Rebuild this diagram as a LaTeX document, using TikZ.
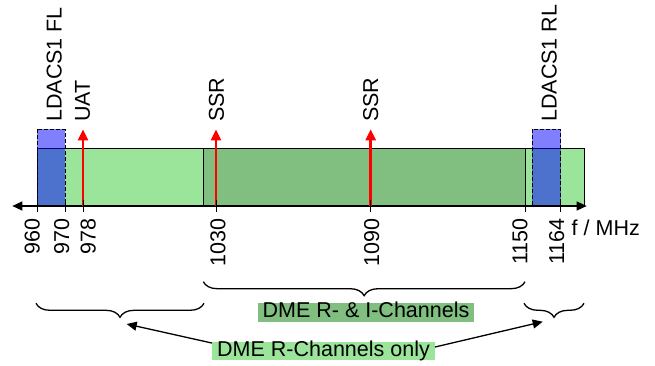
\documentclass[tikz,border=0pt]{standalone}
\usepackage{fontspec}
\setmainfont{Liberation Sans}
\usepackage{xcolor}
\usetikzlibrary{arrows.meta,positioning,decorations.pathreplacing}
\definecolor{lgreen}{RGB}{155,229,155}
\definecolor{dgreen}{RGB}{128,191,128}

\begin{document}
\begin{tikzpicture}[
    x=1pt, y=-1pt,
    font=\fontsize{21.5}{24}\selectfont,
    >={Triangle[length=10pt,width=9pt]},
    band/.style={draw=black, line width=0.8pt},
    ldacs/.style={draw=black, dash pattern=on 4pt off 2pt, fill=blue, fill opacity=0.5, line width=0.8pt},
    sig/.style={->, red, line width=2.5pt, >={Triangle[length=11pt,width=10pt]}},
    vlabel/.style={rotate=90, anchor=west, inner sep=0pt},
    flabel/.style={rotate=90, anchor=east, inner sep=0pt},
    brc/.style={decorate, decoration={brace, mirror, amplitude=14pt}, line width=1.3pt},
    tag/.style={inner xsep=5pt, inner ysep=0pt, text height=14.5pt, text depth=4pt},
    pointer/.style={->, line width=1.3pt}
  ]
  \useasboundingbox (0,0) rectangle (655,366);
  % bands
  \draw[band, fill=lgreen] (37,148.5) rectangle (584.3,206);
  \draw[band, fill=dgreen] (203.3,148.5) rectangle (525,206);
  \draw[ldacs] (37,129.3) rectangle (65,206);
  \draw[ldacs] (532.3,129.3) rectangle (560.5,206);
  % frequency axis
  \coordinate (ax0) at (12.3,206);
  \coordinate (ax1) at (586.7,206);
  \draw[<->, line width=1.2pt] (ax0) -- (ax1);
  % services
  \node[vlabel] (fl) at (54.2,122) {LDACS1 FL};
  \node[vlabel] (uat) at (82.5,122) {UAT};
  \node[vlabel] (ssr1) at (216.5,122) {SSR};
  \node[vlabel] (ssr2) at (370.8,122) {SSR};
  \node[vlabel] (rl) at (549.2,122) {LDACS1 RL};
  \foreach \n/\x in {uat/83, ssr1/216, ssr2/370.7} {
    \coordinate (\n-b) at (\x,206);
    \coordinate (\n-t) at (\x,129.3);
    \draw[sig] (\n-b) -- (\n-t);
  }
  % ticks and labels
  \foreach \x in {37,65,83,216,370.7,525,560.5}
    \draw[line width=1pt] (\x,200) -- (\x,212);
  \foreach \f/\x in {960/32.3, 970/61.7, 978/88.3, 1030/218, 1090/371.7, 1150/520, 1164/556.7}
    \node[flabel] (f\f) at (\x,218) {\f};
  \node[anchor=base west, inner sep=0pt] (unit) at (571.5,235) {f / MHz};
  % channel ranges
  \draw[brc] (36,303.3) -- (204,303.3);
  \draw[brc] (203.3,281.7) -- (525,281.7);
  \draw[brc] (524,303.3) -- (584,303.3);
  \node[tag, fill=dgreen] (both) at (366,312.5) {DME R- \& I-Channels};
  \node[tag, fill=lgreen] (ronly) at (323.5,351) {DME R-Channels only};
  \coordinate (lb) at (126.7,324);
  \coordinate (rb) at (542.7,321.7);
  \draw[pointer] ([yshift=-1.5pt]ronly.north west) -- (lb);
  \draw[pointer] ([yshift=4pt]ronly.east) -- (rb);
\end{tikzpicture}
\end{document}
